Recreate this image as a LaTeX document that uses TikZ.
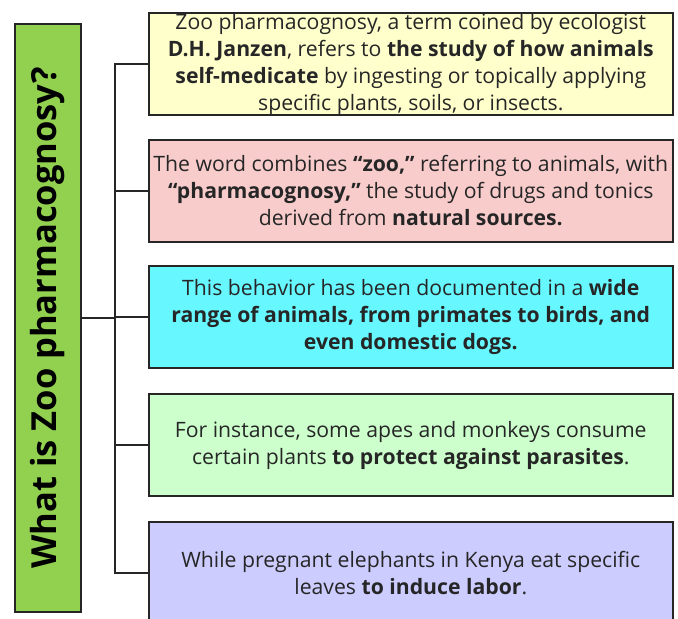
\documentclass[tikz,border=0pt]{standalone}
\usepackage{fontspec}
\setmainfont{Open Sans}
\begin{document}
\begin{tikzpicture}[x=1pt,y=-1pt,
  infobox/.style={draw=black!85, line width=1.6pt, minimum width=524pt,
    minimum height=102pt, anchor=west, align=center, inner sep=0pt,
    font=\fontsize{21.2}{27}\selectfont, text=black!85},
  link/.style={draw=black!85, line width=1.6pt}]
\useasboundingbox (0,0) rectangle (678,619);
\definecolor{boxyellow}{HTML}{FFFFCC}
\definecolor{boxpink}{HTML}{F9CCCC}
\definecolor{boxcyan}{HTML}{66F7FF}
\definecolor{boxgreen}{HTML}{CCFFCC}
\definecolor{boxviolet}{HTML}{CCCCFF}
\definecolor{titlegreen}{HTML}{92D050}

\node[draw=black!85, line width=1.6pt, fill=titlegreen, minimum width=588pt,
  minimum height=66pt, rotate=90, font=\fontsize{34.5}{38}\selectfont\bfseries]
  (title) at (48,318) {What is Zoo pharmacognosy?};

\node[infobox, fill=boxyellow] (b1) at (148,64)
  {Zoo pharmacognosy, a term coined by ecologist\\
   \textbf{D.H. Janzen}, refers to \textbf{the study of how animals}\\
   \textbf{self-medicate} by ingesting or topically applying\\
   specific plants, soils, or insects.};
\node[infobox, fill=boxpink] (b2) at (148,191)
  {The word combines \textbf{“zoo,”} referring to animals, with\\
   \textbf{“pharmacognosy,”} the study of drugs and tonics\\
   derived from \textbf{natural sources.}};
\node[infobox, fill=boxcyan] (b3) at (148,317)
  {This behavior has been documented in a \textbf{wide}\\
   \textbf{range of animals, from primates to birds, and}\\
   \textbf{even domestic dogs.}};
\node[infobox, fill=boxgreen] (b4) at (148,445)
  {For instance, some apes and monkeys consume\\
   certain plants \textbf{to protect against parasites}.};
\node[infobox, fill=boxviolet] (b5) at (148,573)
  {While pregnant elephants in Kenya eat specific\\
   leaves \textbf{to induce labor}.};

\coordinate (spine) at (115,318);
\draw[link] (title.south) -- (spine);
\draw[link] (b1.west) -| (spine |- b1.west) -- (spine |- b5.west) -- (b5.west);
\foreach \b in {b2,b3,b4} \draw[link] (spine |- \b.west) -- (\b.west);
\end{tikzpicture}
\end{document}
